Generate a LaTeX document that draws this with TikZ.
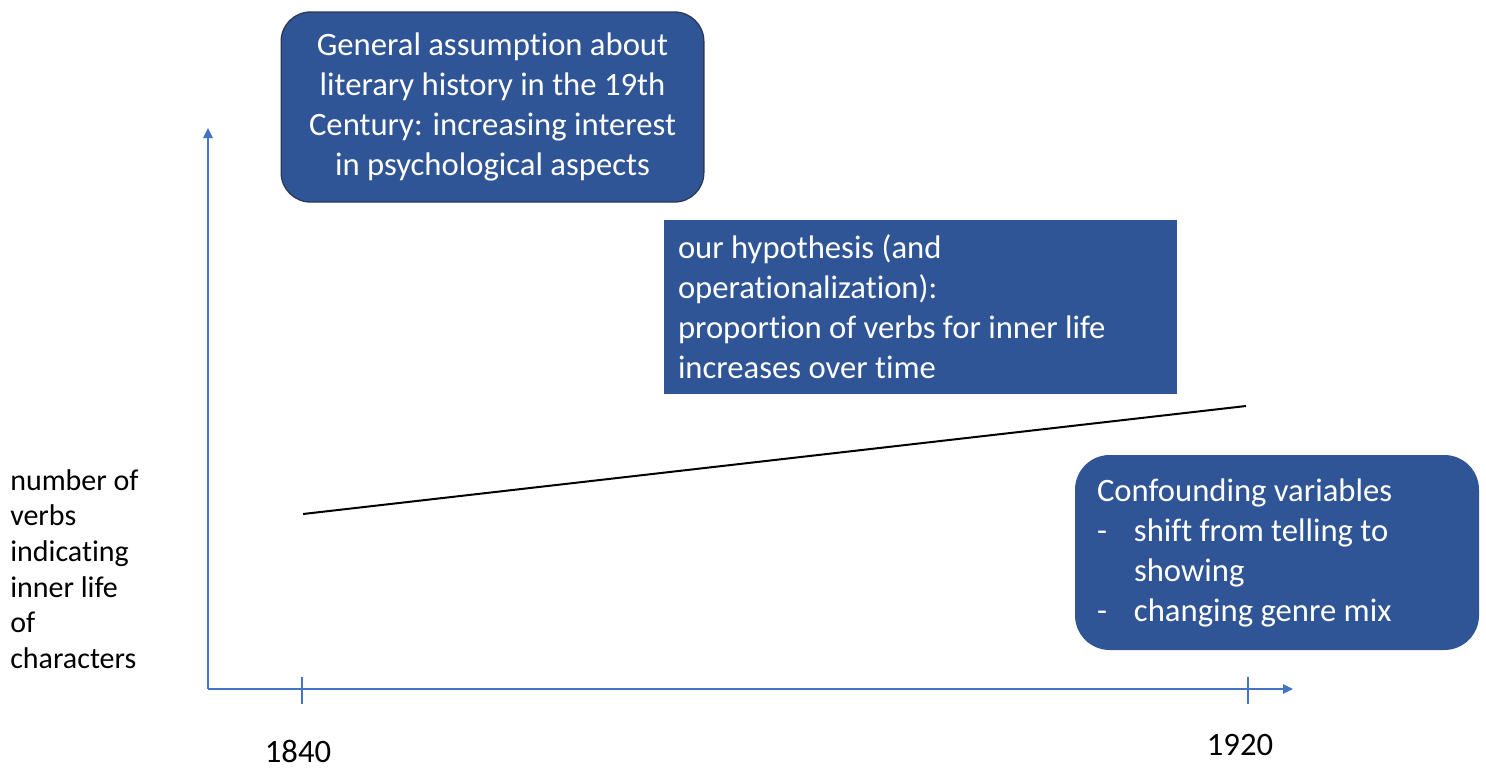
\documentclass[tikz,border=0pt]{standalone}
\usepackage{fontspec}
\setmainfont{Carlito}[Ligatures=NoCommon]
\usetikzlibrary{arrows.meta}

\definecolor{boxblue}{HTML}{2F5597}
\definecolor{boxedge}{HTML}{2E3A55}
\definecolor{axisblue}{HTML}{4472C4}

% keeps t and i apart (no ti ligature)
\newcommand\tsep{t\kern0pt}

\begin{document}
\begin{tikzpicture}[x=0.75pt, y=-0.75pt,
        box/.style={fill=boxblue, text=white, inner sep=0pt,
            font=\fontsize{24.5}{30}\selectfont},
        axis/.style={axisblue, line width=1.5pt},
        axisarrow/.style={axis, -{Triangle[length=7.5pt, width=7pt]}},
        yearlabel/.style={font=\fontsize{24.5}{30}\selectfont, inner sep=0pt}]

        \useasboundingbox[fill=white] (0,0) rectangle (1486,769);

        \newcommand\axisX{208}
        \newcommand\axisY{689}

        % Axes
        \coordinate (origin) at (\axisX,\axisY);
        \coordinate (ytip) at (\axisX,128);
        \coordinate (xtip) at (1293,\axisY);
        \draw[axisarrow] (origin) -- (ytip);
        \draw[axisarrow] (origin) -- (xtip);

        % Year ticks
        \foreach \x/\lx/\ly/\yr in {302/298/751/1840, 1248/1240/745/1920}{
            \coordinate (tick\yr top) at (\x,677);
            \coordinate (tick\yr bot) at (\x,704);
            \draw[axis] (tick\yr top) -- (tick\yr bot);
            \node[yearlabel] (year\yr) at (\lx,\ly) {\yr};
        }

        % Trend
        \coordinate (trendstart) at (303,514);
        \coordinate (trendend) at (1246,406);
        \draw[line width=1.5pt] (trendstart) -- (trendend);

        % Boxes
        \node[box, draw=boxedge, line width=1pt, rounded corners=22pt,
            minimum width=317pt, minimum height=142.5pt, align=center]
            (assumption) at (492.5,107)
            {General assump\tsep ion about\\literary history in the 19th\\Century: increasing interest\\in psychological aspects};

        \node[box, minimum width=384.75pt, minimum height=130.5pt,
            text width=363.75pt, align=flush left]
            (hypothesis) at (920.5,307)
            {our hypothesis (and\\opera\tsep ionaliza\tsep ion):\\propor\tsep ion of verbs for inner life\\increases over time};

        \node[box, rounded corners=26pt, minimum width=303pt, minimum height=146.25pt,
            text width=270pt, align=flush left]
            (confounders) at (1277,552.5)
            {Confounding variables\\\makebox[27.75pt][l]{-}shift from telling to\\\hspace*{27.75pt}showing\\\makebox[27.75pt][l]{-}changing genre mix};

        % Y axis label
        \node[font=\fontsize{22.5}{26.7}\selectfont, align=flush left, anchor=west, inner sep=0pt]
            (ylabel) at (10,569)
            {number of\\verbs\\indicating\\inner life\\of\\characters};

\end{tikzpicture}
\end{document}
